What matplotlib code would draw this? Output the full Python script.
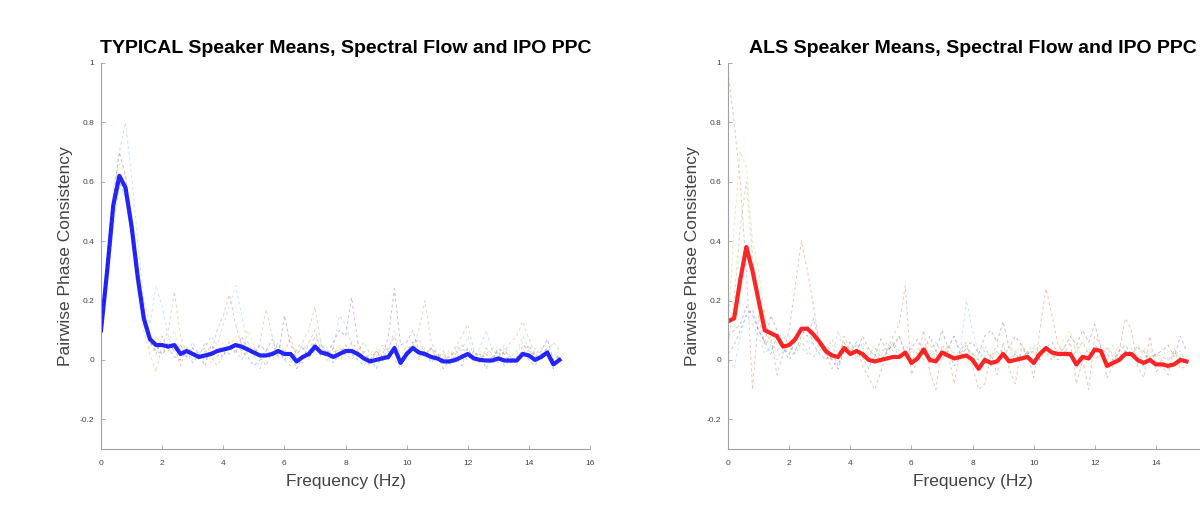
"""
Speaker mean PPC spectra, typical vs ALS
"""

import numpy as np
import matplotlib
matplotlib.use("Agg")
from matplotlib import pyplot as plt
from matplotlib.ticker import FuncFormatter

# frequency grid (Hz), 0.2 Hz steps from 0 to 15
freq = np.linspace(0, 15, 76)

# group means
typical_mean = [
    0.10, 0.30, 0.52, 0.62, 0.58, 0.45, 0.28, 0.14, 0.07, 0.05,
    0.05, 0.045, 0.05, 0.02, 0.03, 0.02, 0.01, 0.015, 0.02, 0.03,
    0.035, 0.04, 0.05, 0.045, 0.035, 0.025, 0.015, 0.015, 0.02, 0.03,
    0.02, 0.02, -0.005, 0.01, 0.02, 0.045, 0.025, 0.02, 0.01, 0.02,
    0.03, 0.03, 0.02, 0.005, -0.005, 0.0, 0.005, 0.01, 0.04, -0.01,
    0.02, 0.04, 0.025, 0.02, 0.01, 0.005, -0.005, -0.005, 0.0, 0.01,
    0.02, 0.005, 0.0, -0.002, -0.002, 0.005, -0.002, -0.002, -0.002, 0.02,
    0.015, 0.0, 0.01, 0.025, -0.015, 0.0]

als_mean = [
    0.13, 0.14, 0.27, 0.38, 0.30, 0.20, 0.10, 0.09, 0.08, 0.045,
    0.05, 0.07, 0.105, 0.105, 0.085, 0.06, 0.03, 0.015, 0.01, 0.04,
    0.02, 0.03, 0.02, 0.0, -0.005, 0.0, 0.005, 0.01, 0.01, 0.025,
    -0.01, 0.005, 0.035, 0.0, -0.005, 0.025, 0.015, 0.005, 0.01, 0.015,
    0.0, -0.03, 0.0, -0.01, -0.005, 0.02, -0.005, 0.0, 0.005, 0.01,
    -0.01, 0.02, 0.04, 0.025, 0.02, 0.02, 0.02, -0.015, 0.01, 0.005,
    0.035, 0.03, -0.02, -0.01, 0.0, 0.02, 0.02, 0.0, -0.01, 0.0,
    -0.015, -0.015, -0.02, -0.015, 0.0, -0.005]

# individual speakers, typical group
typ_s1 = [
    0.08, 0.28, 0.50, 0.60, 0.55, 0.42, 0.25, 0.12, 0.06, 0.03,
    0.02, 0.04, 0.01, 0.00, 0.03, -0.01, 0.02, 0.00, 0.03, 0.01,
    0.04, 0.02, 0.06, 0.03, 0.01, -0.02, 0.00, 0.02, 0.01, 0.04,
    0.00, 0.03, -0.03, 0.01, 0.02, 0.06, 0.01, 0.03, -0.01, 0.02,
    0.05, 0.02, 0.00, -0.02, 0.01, -0.03, 0.02, 0.00, 0.05, -0.02,
    0.03, 0.06, 0.01, 0.03, -0.01, 0.02, -0.03, 0.00, 0.01, -0.02,
    0.04, 0.00, 0.02, -0.03, 0.01, 0.03, -0.02, 0.00, 0.01, 0.03,
    0.00, -0.02, 0.02, 0.04, -0.03, 0.01]
typ_s2 = [
    0.12, 0.32, 0.55, 0.62, 0.57, 0.46, 0.30, 0.15, 0.06, 0.02,
    0.08, 0.03, 0.05, -0.02, 0.04, 0.03, 0.01, 0.06, 0.02, 0.10,
    0.15, 0.22, 0.12, 0.05, 0.02, 0.04, 0.01, -0.02, 0.03, 0.05,
    0.02, 0.08, 0.00, -0.01, 0.06, 0.10, 0.03, 0.01, 0.04, 0.00,
    0.02, 0.06, 0.03, 0.01, -0.02, 0.03, 0.00, 0.04, 0.08, 0.00,
    0.02, 0.05, 0.07, 0.02, 0.04, 0.00, 0.03, -0.02, 0.02, 0.05,
    0.03, 0.01, -0.01, 0.04, 0.02, -0.01, 0.03, 0.01, -0.02, 0.05,
    0.03, 0.02, 0.00, 0.03, -0.01, 0.02]
typ_s3 = [
    0.05, 0.30, 0.58, 0.66, 0.62, 0.48, 0.30, 0.12, 0.04, 0.08,
    0.04, 0.06, 0.10, 0.02, 0.05, 0.00, 0.03, 0.04, -0.01, 0.03,
    0.06, 0.04, 0.08, 0.02, 0.10, 0.05, 0.01, 0.03, 0.00, 0.02,
    0.04, 0.01, 0.03, 0.05, 0.00, 0.08, 0.04, -0.01, 0.02, 0.05,
    0.01, 0.03, 0.06, 0.00, 0.02, 0.04, -0.01, 0.03, 0.02, 0.01,
    0.05, 0.02, 0.00, 0.04, 0.02, -0.02, 0.01, 0.03, 0.00, 0.04,
    0.02, -0.01, 0.03, 0.00, 0.02, 0.01, 0.04, -0.01, 0.02, 0.06,
    0.02, 0.04, 0.01, 0.03, 0.00, 0.02]
typ_s4 = [
    0.10, 0.35, 0.55, 0.70, 0.62, 0.45, 0.25, 0.15, 0.08, 0.05,
    0.02, 0.06, 0.03, 0.05, 0.01, 0.04, 0.02, -0.02, 0.05, 0.03,
    0.01, 0.06, 0.02, 0.08, 0.04, 0.02, 0.05, 0.03, 0.07, 0.01,
    0.15, 0.05, 0.02, 0.04, 0.01, 0.03, 0.05, 0.02, 0.06, 0.10,
    0.08, 0.21, 0.06, 0.02, 0.00, 0.03, 0.01, 0.08, 0.24, 0.05,
    0.06, 0.10, 0.03, 0.01, 0.04, 0.02, 0.00, 0.01, 0.03, 0.02,
    0.00, 0.03, 0.01, 0.02, 0.00, 0.04, 0.02, -0.01, 0.00, 0.02,
    0.05, 0.01, 0.03, 0.07, 0.00, 0.01]
typ_s5 = [
    0.07, 0.25, 0.45, 0.58, 0.55, 0.40, 0.22, 0.10, 0.02, -0.04,
    0.05, 0.10, 0.23, 0.08, 0.02, 0.04, 0.00, 0.03, 0.01, -0.02,
    0.02, 0.05, 0.03, 0.00, 0.04, 0.01, 0.06, 0.17, 0.08, 0.03,
    0.00, -0.02, 0.04, 0.06, 0.10, 0.18, 0.05, 0.00, 0.02, 0.04,
    0.02, 0.00, 0.03, 0.06, 0.02, 0.01, 0.04, 0.03, 0.00, -0.03,
    0.02, 0.04, 0.10, 0.20, 0.06, 0.02, 0.01, -0.01, 0.04, 0.08,
    0.12, 0.03, 0.00, 0.02, 0.04, 0.01, 0.03, 0.06, 0.08, 0.13,
    0.07, 0.02, 0.04, 0.02, 0.06, 0.03]
typ_s6 = [
    0.10, 0.30, 0.55, 0.70, 0.80, 0.62, 0.40, 0.20, 0.12, 0.25,
    0.18, 0.08, 0.03, 0.05, 0.01, 0.06, 0.02, 0.04, 0.08, 0.05,
    0.12, 0.18, 0.25, 0.15, 0.06, 0.02, -0.03, 0.04, 0.02, 0.06,
    0.03, 0.00, 0.02, 0.05, 0.03, 0.08, 0.06, 0.02, 0.04, 0.15,
    0.12, 0.05, 0.01, 0.03, 0.00, 0.02, 0.05, 0.03, 0.10, 0.02,
    0.00, 0.06, 0.03, 0.01, 0.04, 0.00, 0.02, 0.01, 0.05, 0.03,
    0.08, 0.01, 0.04, 0.10, 0.03, 0.02, 0.05, 0.01, 0.03, 0.08,
    0.04, 0.00, 0.02, 0.03, 0.01, 0.03]

# individual speakers, ALS group
als_s1 = [
    0.02, 0.05, 0.10, 0.15, 0.17, 0.10, 0.06, 0.02, 0.08, 0.04,
    0.00, 0.03, 0.08, 0.12, 0.05, 0.02, 0.00, 0.03, -0.02, 0.04,
    0.02, 0.06, 0.01, -0.03, 0.02, 0.00, 0.03, 0.05, 0.01, 0.02,
    -0.02, 0.01, 0.04, -0.01, 0.02, 0.00, 0.03, -0.02, 0.01, 0.04,
    0.02, -0.03, 0.01, -0.02, 0.00, 0.03, -0.01, 0.02, 0.00, 0.03,
    -0.02, 0.01, 0.04, 0.02, 0.00, 0.03, 0.01, -0.03, 0.02, 0.00,
    0.05, 0.03, -0.02, 0.00, 0.01, 0.03, 0.02, -0.01, -0.02, 0.01,
    -0.02, 0.00, -0.03, -0.01, 0.01, -0.02]
als_s2 = [
    0.97, 0.80, 0.60, 0.30, -0.10, 0.15, 0.05, 0.08, -0.05, 0.02,
    0.10, 0.25, 0.40, 0.30, 0.18, 0.05, 0.02, -0.03, 0.00, 0.08,
    0.03, 0.05, -0.02, -0.06, -0.10, -0.04, 0.03, 0.08, 0.12, 0.25,
    -0.05, 0.00, 0.10, -0.04, -0.10, 0.05, 0.02, -0.08, 0.03, 0.06,
    -0.02, -0.10, -0.08, 0.02, -0.05, 0.06, -0.03, -0.08, 0.04, 0.02,
    -0.06, 0.10, 0.24, 0.15, 0.05, 0.02, 0.06, -0.08, 0.00, -0.10,
    0.08, 0.05, -0.06, -0.02, 0.03, 0.14, 0.10, -0.02, -0.06, 0.08,
    -0.04, -0.02, -0.05, 0.04, -0.03, -0.02]
als_s3 = [
    0.10, 0.45, 0.70, 0.65, 0.40, 0.30, 0.15, 0.10, 0.05, 0.02,
    0.04, 0.03, 0.08, 0.06, 0.10, 0.04, 0.02, 0.05, 0.00, 0.06,
    0.03, 0.01, 0.04, 0.02, 0.05, 0.00, 0.03, 0.06, 0.02, 0.00,
    0.04, 0.02, 0.03, 0.06, 0.00, 0.02, 0.05, 0.01, 0.03, -0.02,
    0.02, 0.00, 0.04, 0.01, 0.03, 0.00, 0.05, 0.02, 0.06, 0.00,
    0.03, 0.05, 0.02, 0.00, 0.04, 0.07, 0.10, 0.02, 0.06, 0.03,
    0.00, 0.02, 0.04, 0.01, 0.05, 0.03, 0.00, 0.02, 0.04, 0.01,
    0.02, 0.00, 0.03, 0.02, 0.01, 0.00]
als_s4 = [
    0.08, 0.10, 0.12, 0.18, 0.15, 0.10, 0.06, 0.15, 0.10, 0.04,
    0.02, 0.06, 0.10, 0.08, 0.14, 0.05, 0.02, 0.00, -0.03, 0.03,
    0.06, 0.02, 0.08, 0.04, 0.01, 0.07, 0.03, 0.05, 0.08, 0.02,
    0.04, 0.07, 0.02, 0.08, 0.03, 0.10, 0.04, 0.08, 0.02, 0.05,
    0.06, 0.02, 0.08, 0.10, 0.06, 0.13, 0.04, 0.08, 0.05, 0.02,
    0.03, 0.00, 0.04, 0.06, 0.02, 0.04, 0.08, 0.05, 0.10, 0.06,
    0.12, 0.04, 0.02, 0.00, 0.03, 0.05, 0.02, 0.04, 0.03, 0.00,
    0.02, 0.03, 0.05, 0.01, 0.08, 0.03]
als_s5 = [
    0.05, 0.20, 0.45, 0.60, 0.35, 0.20, 0.10, 0.06, 0.03, 0.08,
    0.05, 0.02, 0.06, 0.03, 0.01, 0.05, 0.02, 0.07, 0.02, 0.06,
    0.01, 0.03, 0.00, 0.02, 0.04, 0.01, 0.06, 0.03, 0.08, 0.03,
    0.00, 0.02, 0.04, 0.01, 0.03, 0.00, 0.05, 0.02, 0.01, 0.04,
    0.02, 0.00, 0.03, 0.01, 0.05, 0.02, 0.00, 0.03, 0.01, 0.02,
    0.04, 0.01, 0.03, 0.00, 0.02, 0.04, 0.01, 0.03, 0.06, 0.02,
    0.03, 0.01, 0.04, 0.02, 0.00, 0.03, 0.01, 0.05, 0.02, 0.00,
    0.02, 0.01, 0.00, 0.03, 0.02, 0.01]
als_s6 = [
    0.00, -0.03, 0.08, 0.15, 0.12, 0.08, 0.02, 0.05, 0.00, 0.04,
    0.02, 0.06, 0.04, 0.02, 0.08, 0.03, 0.05, 0.00, 0.10, 0.02,
    0.04, 0.00, 0.06, 0.03, 0.00, 0.04, 0.02, 0.06, 0.03, 0.05,
    0.02, 0.04, 0.00, 0.03, 0.06, 0.02, 0.04, 0.08, 0.03, 0.20,
    0.10, 0.02, 0.05, 0.00, 0.03, 0.01, 0.04, 0.02, 0.00, 0.03,
    0.05, 0.02, 0.04, 0.01, 0.03, 0.00, 0.02, 0.05, 0.01, 0.04,
    0.02, 0.00, 0.03, 0.05, 0.02, 0.01, 0.04, 0.00, 0.02, 0.03,
    0.01, 0.04, 0.00, 0.02, 0.03, -0.01]

typical_speakers = [typ_s1, typ_s2, typ_s3, typ_s4, typ_s5, typ_s6]
als_speakers = [als_s1, als_s2, als_s3, als_s4, als_s5, als_s6]

# matlab default colour order
speaker_colors = ['#0072BD', '#D95319', '#EDB120', '#7E2F8E', '#77AC30', '#4DBEEE']

plt.rcParams['font.family'] = ['Liberation Sans', 'DejaVu Sans']


def style_axes(ax, title, xmax_label):
    ax.set_xlim(0, 16)
    ax.set_ylim(-0.3, 1)
    # the right panel runs off the figure edge, so its last label is not shown
    ax.set_xticks(np.arange(0, xmax_label + 1, 2))
    ax.set_yticks([-0.2, 0, 0.2, 0.4, 0.6, 0.8, 1])
    ax.yaxis.set_major_formatter(FuncFormatter(lambda v, p: f"{v:g}"))
    ax.spines['top'].set_visible(False)
    ax.spines['right'].set_visible(False)
    for side in ['left', 'bottom']:
        ax.spines[side].set_color('#a0a0a0')
        ax.spines[side].set_linewidth(0.8)
    ax.tick_params(direction='in', length=3, width=0.6, colors='#a0a0a0',
                   labelcolor='#444444', labelsize=6)
    ax.tick_params(axis='y', pad=5)
    ax.tick_params(axis='x', pad=8)
    ax.set_xlabel('Frequency (Hz)', fontsize=12.5, color='#444444', labelpad=5)
    ax.set_ylabel('Pairwise Phase Consistency', fontsize=12.5, color='#444444')
    ax.yaxis.set_label_coords(-0.058, 0.5)
    ax.set_title(title, fontsize=14, fontweight='bold', pad=7)


fig = plt.figure(figsize=(12, 5.28), dpi=100)
ax1 = fig.add_axes([0.0842, 0.1496, 0.4075, 0.7311])
ax2 = fig.add_axes([0.6067, 0.1496, 0.4075, 0.7311])

for ax, speakers, mean, mcol, title, xmax_label in [
        (ax1, typical_speakers, typical_mean, 'blue',
         'TYPICAL Speaker Means, Spectral Flow and IPO PPC', 16),
        (ax2, als_speakers, als_mean, 'red',
         'ALS Speaker Means, Spectral Flow and IPO PPC', 14)]:
    for vals, col in zip(speakers, speaker_colors):
        ax.plot(freq, vals, color=col, linewidth=0.7, alpha=0.35,
                linestyle=(0, (3, 3)))
    ax.plot(freq, mean, color=mcol, linewidth=3, alpha=0.85)
    style_axes(ax, title, xmax_label)

fig.savefig('out.png', dpi=100)
plt.close()
